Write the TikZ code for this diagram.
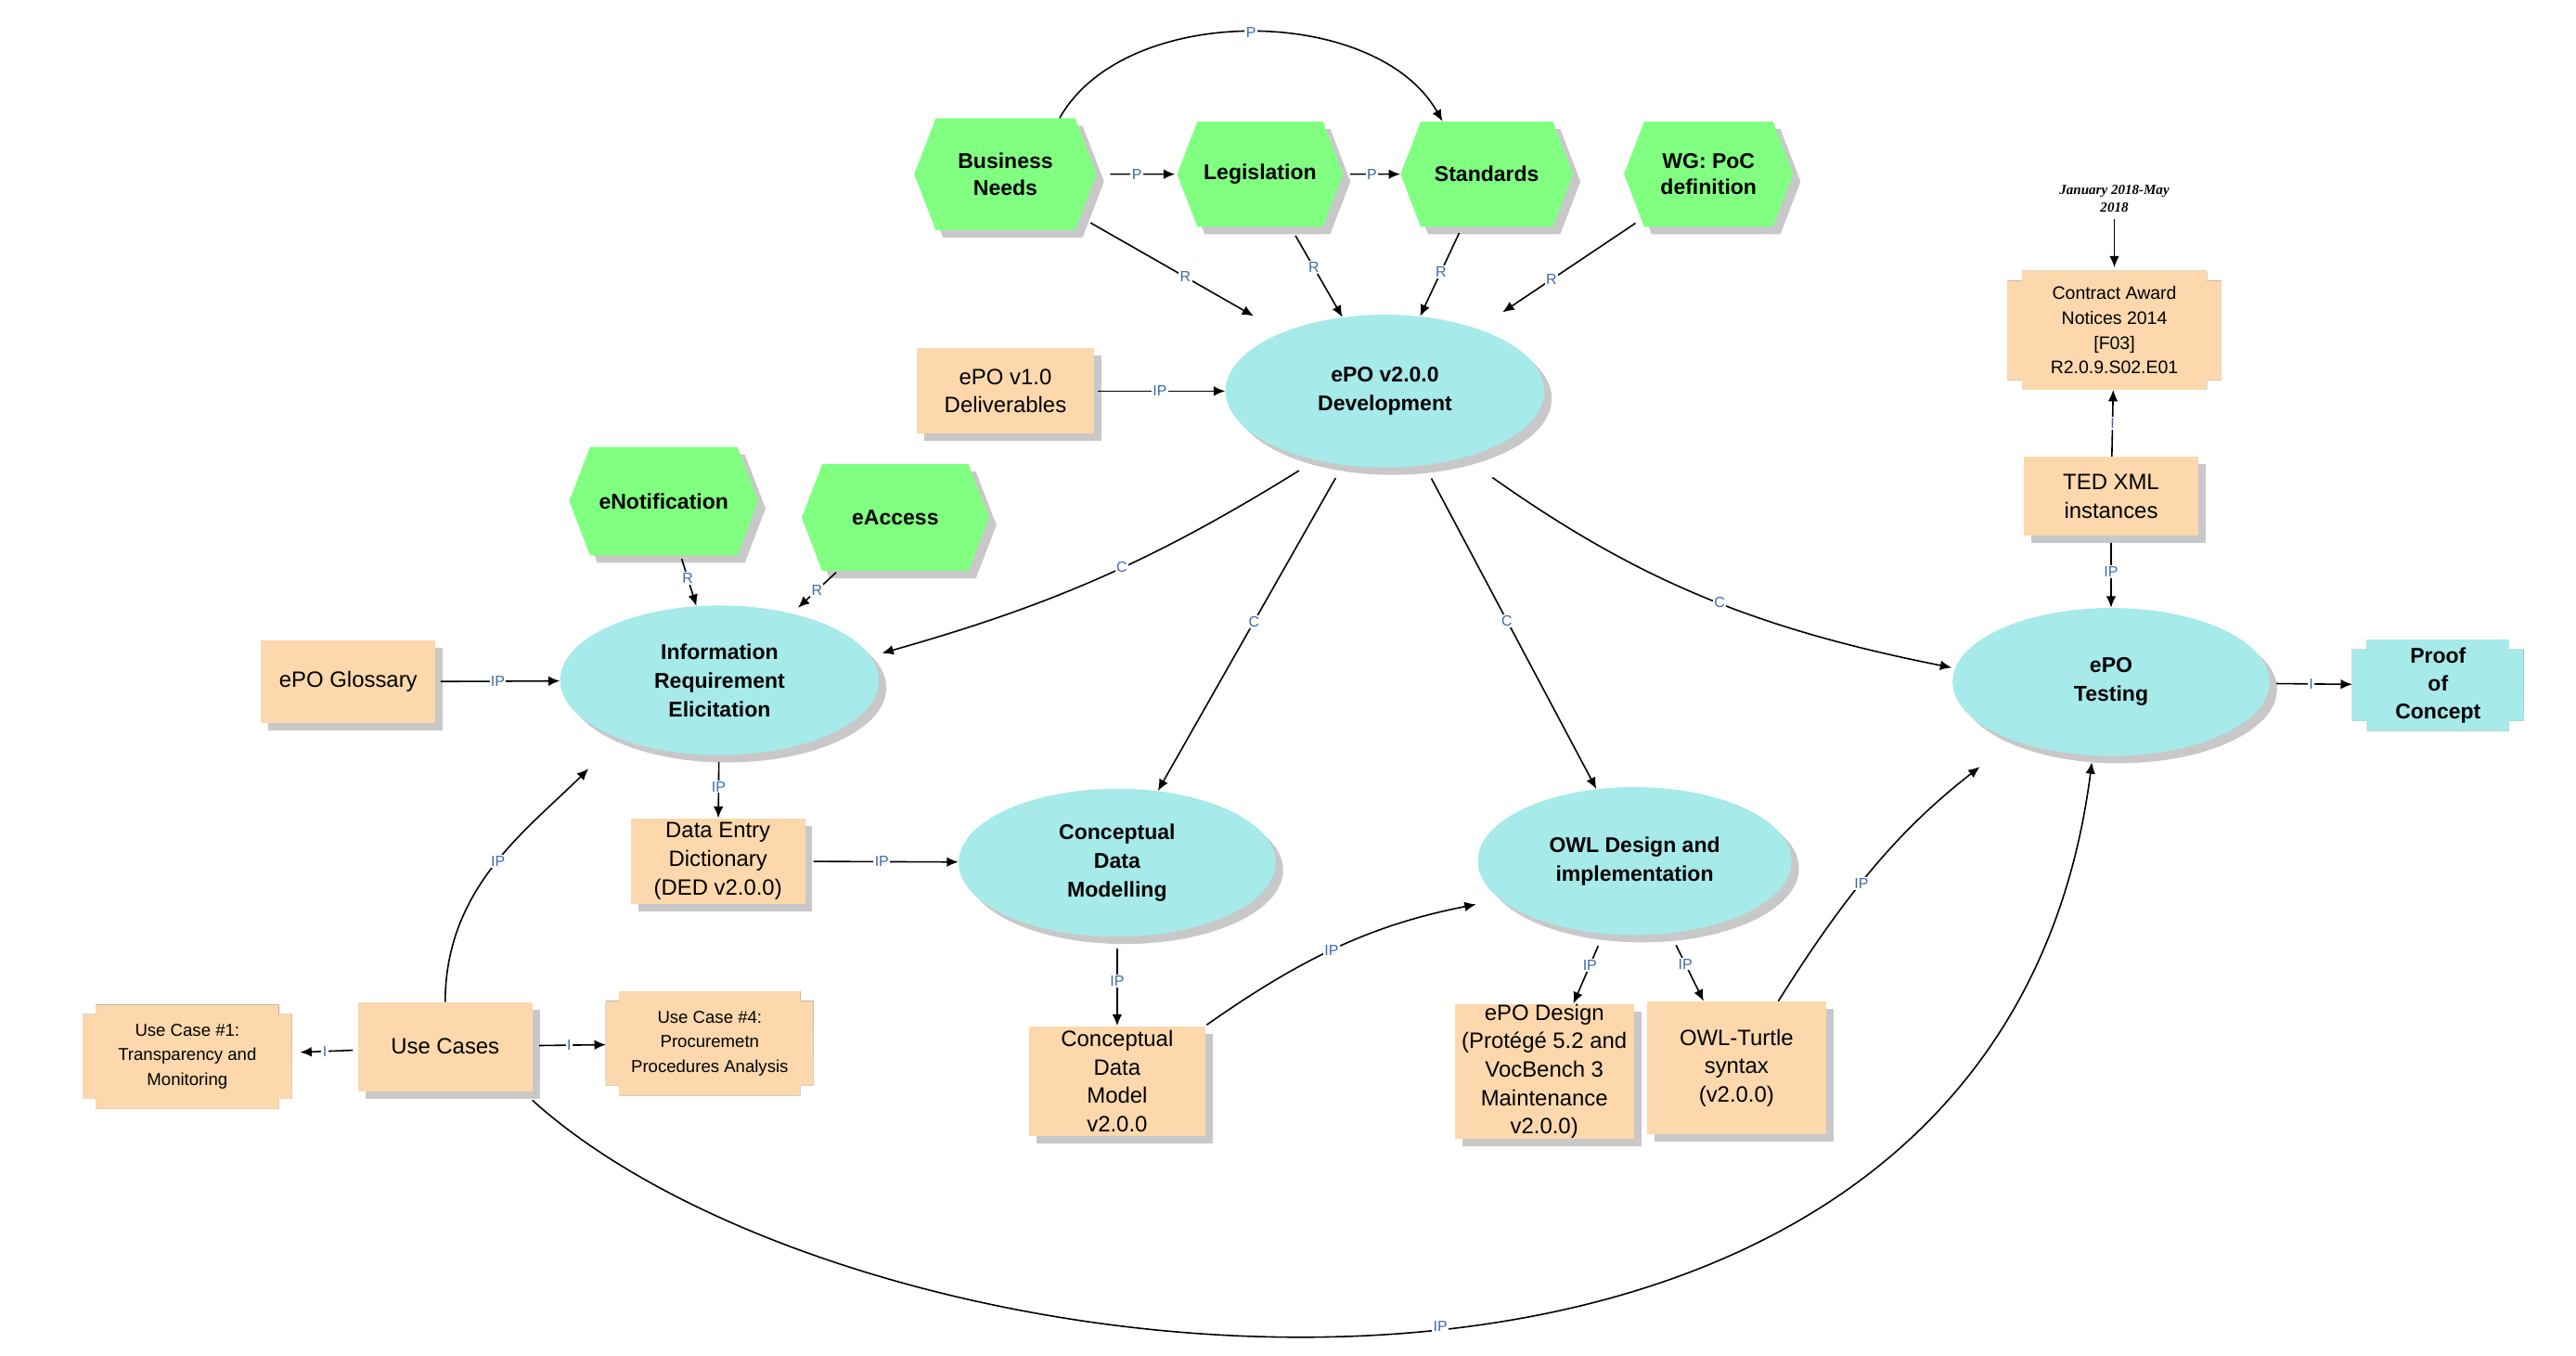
\documentclass[tikz,border=0pt]{standalone}
\usepackage{fontspec}
\setmainfont{Liberation Sans}
\newfontfamily\datefont{Liberation Serif}
\usetikzlibrary{shapes.geometric,shapes.symbols,shadows,arrows.meta,calc,backgrounds}
\definecolor{hexgreen}{RGB}{128,255,128}
\definecolor{ellcyan}{RGB}{166,234,234}
\definecolor{peach}{RGB}{252,216,172}
\definecolor{shade}{RGB}{200,200,200}
\definecolor{lblc}{RGB}{60,105,175}
\newcommand{\notchbg}[4]{%
  \fill[#2] let \p1=(#1.north west), \p2=(#1.south east) in
   (\x1+#3,\y1) -- (\x2-#3,\y1) -- (\x2-#3,\y1-#4) -- (\x2,\y1-#4) -- (\x2,\y2+#4) -- (\x2-#3,\y2+#4) -- (\x2-#3,\y2) -- (\x1+#3,\y2) -- (\x1+#3,\y2+#4) -- (\x1,\y2+#4) -- (\x1,\y1-#4) -- (\x1+#3,\y1-#4) -- cycle;}
\begin{document}
\begin{tikzpicture}[x=1pt,y=-1pt,
  sh/.style={drop shadow={shadow xshift=4.5pt,shadow yshift=-4.5pt,fill=shade,opacity=1}},
  hexnode/.style={shape=signal, signal to=east and west, signal pointer angle=138, fill=hexgreen, sh, inner sep=0pt, align=center, font=\fontsize{13}{16}\selectfont\bfseries},
  ellnode/.style={ellipse, fill=ellcyan, sh, inner sep=0pt, minimum width=194pt, minimum height=91pt, align=center, font=\fontsize{13}{17.5}\selectfont\bfseries},
  boxnode/.style={rectangle, fill=peach, sh, inner sep=0pt, align=center, font=\fontsize{13.5}{17.3}\selectfont},
  notchnode/.style={rectangle, inner sep=0pt, align=center},
  conn/.style={line width=0.9pt, -{Latex[length=7pt,width=6pt]}},
  lbl/.style={fill=white, inner sep=0.8pt, text=lblc, font=\fontsize{9}{9}\selectfont}]
\useasboundingbox (0,0) rectangle (1568,825);

% hexagons
\node[hexnode, minimum width=111pt, minimum height=68pt] (bn) at (612,106) {Business\\Needs};
\node[hexnode, minimum width=101pt, minimum height=64pt] (leg) at (767,106) {Legislation};
\node[hexnode, minimum width=105pt, minimum height=64pt] (std) at (905,106) {Standards};
\node[hexnode, minimum width=103pt, minimum height=64pt] (wg) at (1040,106) {WG: PoC\\definition};
\node[hexnode, minimum width=115pt, minimum height=66pt] (enot) at (404,305) {eNotification};
\node[hexnode, minimum width=114pt, minimum height=65pt] (eacc) at (545,315) {eAccess};

% ellipses
\node[ellnode, minimum height=93pt] (dev) at (843,238) {ePO v2.0.0\\Development};
\node[ellnode] (info) at (438,414) {Information\\Requirement\\Elicitation};
\node[ellnode, minimum width=193pt, minimum height=90pt] (cdm) at (680,525) {Conceptual\\Data\\Modelling};
\node[ellnode, minimum width=191pt, minimum height=90pt] (owl) at (995,524) {OWL Design and\\implementation};
\node[ellnode, minimum width=193pt, minimum height=90pt] (test) at (1285,415) {ePO\\Testing};

% boxes
\node[boxnode, minimum width=108pt, minimum height=52pt] (v1) at (612,238) {ePO v1.0\\Deliverables};
\node[boxnode, minimum width=106pt, minimum height=50pt] (gloss) at (212,415) {ePO Glossary};
\node[boxnode, minimum width=106pt, minimum height=52pt] (ded) at (437,524) {Data Entry\\Dictionary\\(DED v2.0.0)};
\node[boxnode, minimum width=106pt, minimum height=54pt] (uc) at (271,637) {Use Cases};
\node[boxnode, minimum width=107pt, minimum height=67pt] (cmodel) at (680,658) {Conceptual\\Data\\Model\\v2.0.0};
\node[boxnode, minimum width=109pt, minimum height=82pt] (design) at (940,652) {ePO Design\\(Protégé 5.2 and\\VocBench 3\\Maintenance\\v2.0.0)};
\node[boxnode, minimum width=109pt, minimum height=81pt] (turtle) at (1057,650) {OWL-Turtle\\syntax\\(v2.0.0)};
\node[boxnode, minimum width=106pt, minimum height=48pt] (ted) at (1285,302) {TED XML\\instances};

% notched boxes
\node[notchnode, minimum width=127pt, minimum height=63pt, font=\fontsize{10.5}{15}\selectfont] (uc1) at (114,643) {Use Case \#1:\\Transparency and\\Monitoring};
\node[notchnode, minimum width=126pt, minimum height=63pt, font=\fontsize{10.5}{15}\selectfont] (uc4) at (432,635) {Use Case \#4:\\Procuremetn\\Procedures Analysis};
\node[notchnode, minimum width=130pt, minimum height=72pt, font=\fontsize{11}{15}\selectfont] (ca) at (1287,201) {Contract Award\\Notices 2014\\{[F03]}\\R2.0.9.S02.E01};
\node[notchnode, minimum width=104pt, minimum height=55pt, font=\fontsize{13}{17}\selectfont\bfseries] (poc) at (1484,417) {Proof\\of\\Concept};
\begin{scope}[on background layer]
\notchbg{uc1}{shade,shift={(4.5pt,-4.5pt)}}{8pt}{6pt}
\notchbg{uc1}{peach}{8pt}{6pt}
\notchbg{uc4}{shade,shift={(4.5pt,-4.5pt)}}{8pt}{6pt}
\notchbg{uc4}{peach}{8pt}{6pt}
\notchbg{ca}{shade,shift={(4.5pt,-4.5pt)}}{9pt}{6pt}
\notchbg{ca}{peach}{9pt}{6pt}
\notchbg{poc}{shade,shift={(4.5pt,-4.5pt)}}{9pt}{6pt}
\notchbg{poc}{ellcyan}{9pt}{6pt}
\end{scope}

% date note
\node[font=\datefont\fontsize{8.5}{11}\selectfont\bfseries\itshape, align=center, inner sep=1pt] (date) at (1287,121) {January 2018-May\\2018};

% connectors
\draw[conn, shorten <=8pt, shorten >=1pt] (bn) -- node[lbl]{P} (leg);
\draw[conn, shorten <=4pt] (leg) -- node[lbl]{P} (std);
\draw[conn] (bn.46) .. controls +(40,-71) and +(-40,-71) .. node[lbl, pos=0.5]{P} (std.130);
\draw[conn, shorten <=7pt, shorten >=20pt] (bn) -- node[lbl, pos=0.52]{R} (dev);
\draw[conn, shorten <=6pt] (leg) -- node[lbl, pos=0.45]{R} (dev);
\draw[conn, shorten <=4pt] (std) -- node[lbl, pos=0.5]{R} (dev);
\draw[conn, shorten <=4pt, shorten >=18pt] (wg) -- node[lbl, pos=0.55]{R} (dev);
\draw[conn, shorten <=2pt] (v1) -- node[lbl]{IP} (dev);

\draw[conn, shorten <=12pt, shorten >=7pt] (dev.225) to[bend left=8] node[lbl, pos=0.45]{C} (info.9);
\draw[conn, shorten <=9pt] (dev) -- node[lbl, pos=0.48]{C} (cdm);
\draw[conn, shorten <=9pt] (dev) -- node[lbl, pos=0.48]{C} (owl);
\draw[conn, shorten <=21pt, shorten >=2pt] (dev.320) to[bend right=12] node[lbl, pos=0.55]{C} (test.175);

\draw[conn, shorten <=2pt] (enot) -- node[lbl, pos=0.45]{R} (info);
\draw[conn, shorten <=1pt, shorten >=5pt] (eacc) -- node[lbl, pos=0.45]{R} (info);
\draw[conn, shorten <=3pt] (gloss) -- node[lbl, pos=0.5]{IP} (info);
\draw[conn, shorten <=4pt] (info) -- node[lbl]{IP} (ded);
\draw[conn, shorten <=5pt] (ded) -- node[lbl]{IP} (cdm);
\draw[conn, shorten <=7pt] (cdm) -- node[lbl]{IP} (cmodel);
\draw[conn, shorten <=1pt, shorten >=15pt] (cmodel.north east) to[bend left=12] node[lbl, pos=0.45]{IP} (owl.196);
\draw[conn, shorten <=8pt] (owl) -- node[lbl, pos=0.45]{IP} (design);
\draw[conn, shorten <=8pt] (owl) -- node[lbl, pos=0.45]{IP} (turtle);
\draw[conn, shorten >=26pt] (turtle.58) to[bend left=10] node[lbl, pos=0.4]{IP} (test.211);

\draw[conn, shorten >=26pt] (uc.north) .. controls +(0,-70) and +(-55,55) .. node[lbl, pos=0.5]{IP} (info.210);
\draw[conn, shorten <=3pt, shorten >=5pt] (uc) -- node[lbl]{I} (uc1);
\draw[conn, shorten <=4pt] (uc) -- node[lbl]{I} (uc4);
\draw[conn, shorten <=8pt, shorten >=4pt] (uc.-30) .. controls +(210,190) and +(-60,470) .. node[lbl, pos=0.52]{IP} (test.256);

\draw[conn, shorten <=4pt] (ted) -- node[lbl]{IP} (test);
\draw[conn] (ted) -- node[lbl]{I} (ca);
\draw[conn, shorten <=3pt, shorten >=2pt] (date) -- (ca);
\draw[conn, shorten <=4pt] (test) -- node[lbl]{I} (poc);
\end{tikzpicture}
\end{document}
